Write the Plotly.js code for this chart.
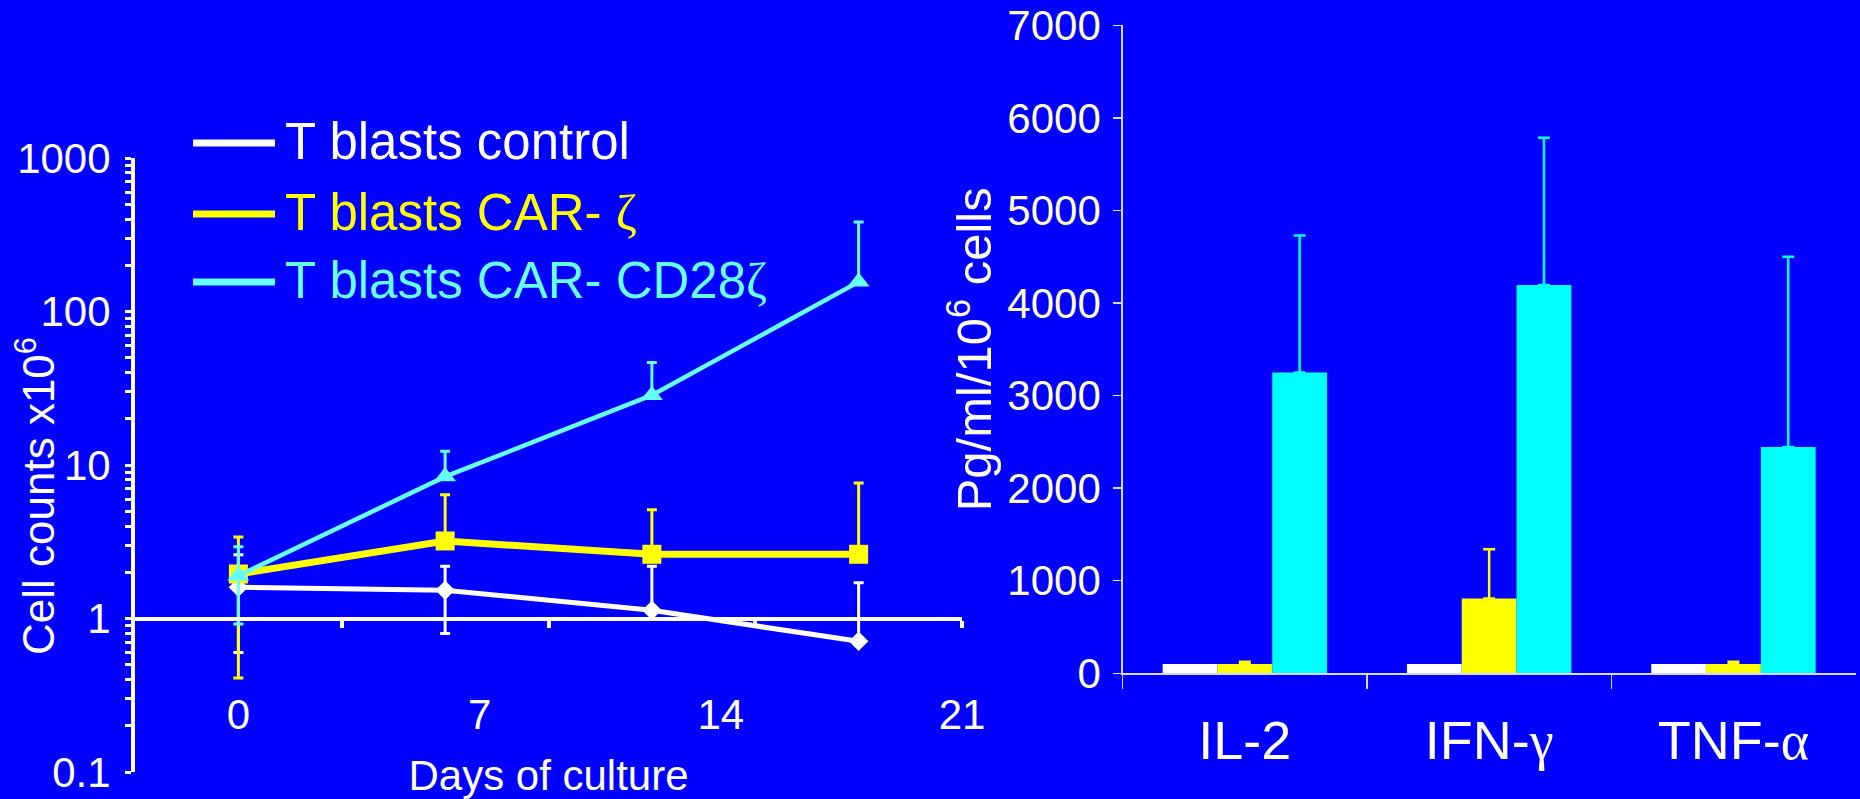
<!DOCTYPE html>
<html>
<head>
<meta charset="utf-8">
<script src="https://cdn.plot.ly/plotly-3.0.1.min.js"></script>
<style>
html,body{margin:0;padding:0;background:#0000FF;overflow:hidden}
#chart{width:1860px;height:799px}
</style>
</head>
<body>
<div id="chart"></div>
<script>
// ---------- Left panel: cell expansion (log scale) ----------
const days = [0, 6, 12, 18];
const dayTickVals = [0, 7, 14, 21];
const dayMinorTickVals = [3, 9, 15, 21];
const yTickVals = [0.1, 1, 10, 100, 1000];
const yTickText = ['0.1', '1', '10', '100', '1000'];

const seriesNames = [
  'T blasts control',
  'T blasts CAR- <span style="font-family:Liberation Serif">ζ</span>',
  'T blasts CAR- CD28<span style="font-family:Liberation Serif">ζ</span>'
];
const lineColors = ['#FFFFFF', '#FFFF00', '#66FFFF'];
const barColors = ['#FFFFFF', '#FFFF00', '#00FFFF'];

const controlCounts   = [1.6, 1.53, 1.13, 0.71];
const controlErrPlus  = [1.0, 0.66, 1.06, 1.0];
const controlErrMinus = [1.0, 0.73, 0, 0];

const carZetaCounts   = [1.95, 3.2, 2.62, 2.62];
const carZetaErrPlus  = [1.45, 3.2, 2.5, 5.0];
const carZetaErrMinus = [1.54, 0, 0, 0];

const carCD28Counts   = [1.9, 8.4, 28.5, 156];
const carCD28ErrPlus  = [1.03, 3.9, 18, 227];
const carCD28ErrMinus = [0.98, 0, 0, 0];

// ---------- Right panel: cytokine secretion ----------
const cytokines = ['IL-2', 'IFN-γ', 'TNF-α'];
const cytokineLabels = [
  'IL-2',
  'IFN-<span style="font-family:Liberation Serif">γ</span>',
  'TNF-<span style="font-family:Liberation Serif">α</span>'
];
const cytoControl    = [100, 100, 100];
const cytoCarZeta    = [100, 809, 100];
const cytoCarZetaErr = [25, 530, 25];
const cytoCD28       = [3250, 4195, 2444];
const cytoCD28Err    = [1480, 1590, 2056];

// ---------- geometry ----------
const W = 1860, H = 799;
const px = v => v / W;
const py = v => 1 - v / H;
const FONT = 'Liberation Sans, Arial, sans-serif';
const leftX = [px(135), px(962)];
const leftY = [py(772), py(158)];
const rightX = [px(1122.7), px(1855.6)];
const rightY = [py(673.3), py(25.3)];
const yLogRange = [-1, 3];
const oneLinePos = leftY[0] + (0 - yLogRange[0]) / (yLogRange[1] - yLogRange[0]) * (leftY[1] - leftY[0]);

// log-axis ticks: labelled decades plus unlabelled 2..9 marks inside each decade
const allYTickVals = [];
const allYTickText = [];
for (let e = yLogRange[0]; e <= yLogRange[1]; e++) {
  const dec = Math.pow(10, e);
  const k = yTickVals.findIndex(v => Math.abs(v - dec) < dec * 1e-6);
  allYTickVals.push(dec);
  allYTickText.push(k >= 0 ? yTickText[k] : '');
  if (e < yLogRange[1]) {
    for (let d = 2; d <= 9; d++) { allYTickVals.push(d * dec); allYTickText.push(''); }
  }
}

const lineSeries = [
  {y: controlCounts, p: controlErrPlus, m: controlErrMinus, sym: 'diamond', size: 15, lw: 5},
  {y: carZetaCounts, p: carZetaErrPlus, m: carZetaErrMinus, sym: 'square', size: 19, lw: 7},
  {y: carCD28Counts, p: carCD28ErrPlus, m: carCD28ErrMinus, sym: 'triangle-up', size: 19, lw: 4.5}
];

const traces = [];
lineSeries.forEach((s, i) => {
  traces.push({
    type: 'scatter', mode: 'lines+markers', x: days, y: s.y,
    name: seriesNames[i], xaxis: 'x', yaxis: 'y', showlegend: false,
    line: {color: lineColors[i], width: s.lw},
    marker: {symbol: s.sym, size: s.size, color: lineColors[i]},
    error_y: {type: 'data', symmetric: false, array: s.p, arrayminus: s.m,
              color: lineColors[i], thickness: 3, width: 5, visible: true},
    cliponaxis: false
  });
});

const barSets = [
  {y: cytoControl, err: null},
  {y: cytoCarZeta, err: cytoCarZetaErr},
  {y: cytoCD28, err: cytoCD28Err}
];
barSets.forEach((b, i) => {
  const t = {
    type: 'bar', x: cytokines, y: b.y, name: seriesNames[i],
    xaxis: 'x2', yaxis: 'y2', showlegend: false,
    marker: {color: barColors[i], line: {width: 0}}
  };
  if (b.err) {
    t.error_y = {type: 'data', array: b.err, symmetric: false,
                 arrayminus: b.err.map(() => 0),
                 color: barColors[i], thickness: 2.5, width: 6, visible: true};
  }
  traces.push(t);
});

// custom legend (long thick line samples, coloured text)
const legendRows = [141, 212, 280];
const shapes = [];
const annotations = [];
legendRows.forEach((yy, i) => {
  shapes.push({type: 'line', xref: 'paper', yref: 'paper',
    x0: px(193), x1: px(275), y0: py(yy + 2), y1: py(yy + 2),
    line: {color: lineColors[i], width: 7}});
  annotations.push({xref: 'paper', yref: 'paper', x: px(283), y: py(yy),
    xanchor: 'left', yanchor: 'middle', showarrow: false,
    text: seriesNames[i], font: {family: FONT, size: 51, color: lineColors[i]}});
});
annotations.push({xref: 'paper', yref: 'paper', x: px(35), y: py(496),
  xanchor: 'center', yanchor: 'middle', showarrow: false, textangle: -90,
  text: 'Cell counts x10<sup>6</sup>', font: {family: FONT, size: 44, color: '#FFFFFF'}});

const layout = {
  width: W, height: H, autosize: false,
  margin: {l: 0, r: 0, t: 0, b: 0, pad: 0},
  paper_bgcolor: '#0000FF', plot_bgcolor: 'rgba(0,0,0,0)',
  font: {family: FONT, color: '#FFFFFF'},
  showlegend: false,
  barmode: 'group', bargap: 0.327, bargroupgap: 0,
  xaxis: {
    domain: leftX, range: [-3, 21], anchor: 'free', position: oneLinePos,
    showgrid: false, zeroline: false,
    showline: true, linecolor: '#FFFFFF', linewidth: 4.5,
    tickmode: 'array', tickvals: dayTickVals, ticks: '',
    ticklabelstandoff: 58,
    tickfont: {family: FONT, size: 42, color: '#FFFFFF'},
    minor: {tickmode: 'array', tickvals: dayMinorTickVals, ticks: 'outside',
            ticklen: 7, tickwidth: 4, tickcolor: '#FFFFFF', showgrid: false},
    title: {text: 'Days of culture', font: {family: FONT, size: 42, color: '#FFFFFF'}, standoff: 32},
    automargin: false
  },
  yaxis: {
    domain: leftY, type: 'log', range: yLogRange, anchor: 'x',
    showgrid: false, zeroline: false,
    showline: true, linecolor: '#FFFFFF', linewidth: 4,
    tickmode: 'array', tickvals: allYTickVals, ticktext: allYTickText,
    ticks: 'outside', ticklen: 6, tickwidth: 3, tickcolor: '#FFFFFF',
    ticklabelstandoff: 6,
    tickfont: {family: FONT, size: 42, color: '#FFFFFF'},
    automargin: false
  },
  xaxis2: {
    domain: rightX, anchor: 'y2', type: 'category',
    showgrid: false, zeroline: false,
    showline: true, linecolor: '#D8D8F0', linewidth: 1.5,
    tickmode: 'array', tickvals: cytokines, ticktext: cytokineLabels,
    ticks: 'outside', tickson: 'boundaries', ticklen: 14, tickwidth: 1.5, tickcolor: '#D8D8F0',
    ticklabelstandoff: 19,
    tickfont: {family: FONT, size: 54, color: '#FFFFFF'},
    automargin: false
  },
  yaxis2: {
    domain: rightY, anchor: 'x2', range: [0, 7000], dtick: 1000,
    showgrid: false, zeroline: false,
    showline: true, linecolor: '#D8D8F0', linewidth: 1.5,
    ticks: 'outside', ticklen: 8, tickwidth: 1.5, tickcolor: '#D8D8F0',
    ticklabelstandoff: 4,
    tickfont: {family: FONT, size: 42, color: '#FFFFCC'},
    title: {text: 'Pg/ml/10<sup>6</sup> cells', font: {family: FONT, size: 49, color: '#FFFFFF'}, standoff: 0},
    automargin: false
  },
  shapes: shapes,
  annotations: annotations
};

Plotly.newPlot('chart', traces, layout, {displayModeBar: false, staticPlot: true});
</script>
</body>
</html>
